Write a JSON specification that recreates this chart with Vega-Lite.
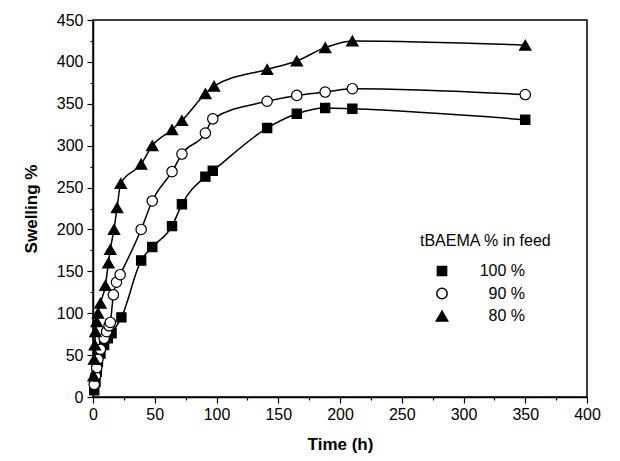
{
  "$schema": "https://vega.github.io/schema/vega-lite/v6.json",
  "width": 494,
  "height": 377,
  "padding": {"left": 93, "top": 20, "right": 33, "bottom": 64},
  "autosize": {"type": "none"},
  "background": "white",
  "config": {
    "view": {"stroke": "black", "strokeWidth": 1.5},
    "font": "Liberation Sans",
    "axis": {"domainColor": "black", "tickColor": "black", "labelColor": "black", "titleColor": "black", "grid": false, "labelFont": "Liberation Sans", "titleFont": "Liberation Sans", "domainWidth": 1.5, "tickWidth": 1.2}
  },
  "data": {"values": [
    {"series": "100 %", "time": 1, "swelling": 8},
    {"series": "100 %", "time": 2, "swelling": 18},
    {"series": "100 %", "time": 3, "swelling": 30},
    {"series": "100 %", "time": 4, "swelling": 42},
    {"series": "100 %", "time": 6, "swelling": 52},
    {"series": "100 %", "time": 9, "swelling": 62},
    {"series": "100 %", "time": 12, "swelling": 70},
    {"series": "100 %", "time": 15, "swelling": 76},
    {"series": "100 %", "time": 23, "swelling": 95},
    {"series": "100 %", "time": 39, "swelling": 163},
    {"series": "100 %", "time": 48, "swelling": 179},
    {"series": "100 %", "time": 64, "swelling": 204},
    {"series": "100 %", "time": 72, "swelling": 230},
    {"series": "100 %", "time": 91, "swelling": 263},
    {"series": "100 %", "time": 97, "swelling": 270},
    {"series": "100 %", "time": 141, "swelling": 321},
    {"series": "100 %", "time": 165, "swelling": 338},
    {"series": "100 %", "time": 188, "swelling": 345},
    {"series": "100 %", "time": 210, "swelling": 344},
    {"series": "100 %", "time": 350, "swelling": 331},
    {"series": "90 %", "time": 1, "swelling": 15},
    {"series": "90 %", "time": 2, "swelling": 25},
    {"series": "90 %", "time": 3, "swelling": 35},
    {"series": "90 %", "time": 4, "swelling": 45},
    {"series": "90 %", "time": 6, "swelling": 57},
    {"series": "90 %", "time": 9, "swelling": 70},
    {"series": "90 %", "time": 11, "swelling": 78},
    {"series": "90 %", "time": 13, "swelling": 85},
    {"series": "90 %", "time": 14, "swelling": 89},
    {"series": "90 %", "time": 16.5, "swelling": 122},
    {"series": "90 %", "time": 19, "swelling": 137},
    {"series": "90 %", "time": 22, "swelling": 146},
    {"series": "90 %", "time": 39, "swelling": 200},
    {"series": "90 %", "time": 48, "swelling": 234},
    {"series": "90 %", "time": 64, "swelling": 269},
    {"series": "90 %", "time": 72, "swelling": 290},
    {"series": "90 %", "time": 91, "swelling": 315},
    {"series": "90 %", "time": 97, "swelling": 332},
    {"series": "90 %", "time": 141, "swelling": 353},
    {"series": "90 %", "time": 165, "swelling": 360},
    {"series": "90 %", "time": 188, "swelling": 364},
    {"series": "90 %", "time": 210, "swelling": 368},
    {"series": "90 %", "time": 350, "swelling": 361},
    {"series": "80 %", "time": 0.5, "swelling": 25},
    {"series": "80 %", "time": 1, "swelling": 45},
    {"series": "80 %", "time": 1.5, "swelling": 62},
    {"series": "80 %", "time": 2, "swelling": 78},
    {"series": "80 %", "time": 3, "swelling": 90},
    {"series": "80 %", "time": 4, "swelling": 100},
    {"series": "80 %", "time": 6, "swelling": 112},
    {"series": "80 %", "time": 10, "swelling": 133},
    {"series": "80 %", "time": 12.5, "swelling": 160},
    {"series": "80 %", "time": 14, "swelling": 176},
    {"series": "80 %", "time": 17, "swelling": 200},
    {"series": "80 %", "time": 19.5, "swelling": 226},
    {"series": "80 %", "time": 22.5, "swelling": 255},
    {"series": "80 %", "time": 39, "swelling": 278},
    {"series": "80 %", "time": 48, "swelling": 300},
    {"series": "80 %", "time": 64, "swelling": 319},
    {"series": "80 %", "time": 72, "swelling": 330},
    {"series": "80 %", "time": 91, "swelling": 362},
    {"series": "80 %", "time": 98, "swelling": 371},
    {"series": "80 %", "time": 141, "swelling": 391},
    {"series": "80 %", "time": 165, "swelling": 401},
    {"series": "80 %", "time": 188, "swelling": 417},
    {"series": "80 %", "time": 210, "swelling": 425},
    {"series": "80 %", "time": 350, "swelling": 420}
  ]},
  "layer": [
    {
      "mark": {"type": "line", "interpolate": "monotone", "color": "black", "strokeWidth": 1.5},
      "encoding": {
        "x": {"field": "time", "type": "quantitative", "scale": {"domain": [0, 400], "nice": false, "zero": false},
          "axis": {"orient": "bottom", "values": [0, 50, 100, 150, 200, 250, 300, 350, 400], "tickSize": 6, "labelFontSize": 16, "labelPadding": 3, "labelFlush": false, "labelOverlap": false, "title": "Time (h)", "titleFontSize": 17, "titleFontWeight": "bold", "titlePadding": 14}},
        "y": {"field": "swelling", "type": "quantitative", "scale": {"domain": [0, 450], "nice": false},
          "axis": {"orient": "left", "values": [0, 50, 100, 150, 200, 250, 300, 350, 400, 450], "tickSize": 6, "labelFontSize": 16, "labelPadding": 4, "labelOverlap": false, "title": "Swelling %", "titleFontSize": 17, "titleFontWeight": "bold", "titlePadding": 16}},
        "detail": {"field": "series", "type": "nominal"}
      }
    },
    {
      "mark": {"type": "point", "filled": true, "stroke": "black", "strokeWidth": 1.2, "opacity": 1},
      "encoding": {
        "x": {"field": "time", "type": "quantitative", "scale": {"domain": [0, 400], "nice": false, "zero": false},
          "axis": {"orient": "bottom", "values": [25, 75, 125, 175, 225, 275, 325, 375], "tickSize": 3, "labels": false, "domain": false, "title": null}},
        "y": {"field": "swelling", "type": "quantitative", "scale": {"domain": [0, 450], "nice": false},
          "axis": {"orient": "left", "values": [25, 75, 125, 175, 225, 275, 325, 375, 425], "tickSize": 3, "labels": false, "domain": false, "title": null}},
        "shape": {"field": "series", "type": "nominal",
          "scale": {"domain": ["100 %", "90 %", "80 %"], "range": ["square", "circle", "triangle-up"]},
          "legend": {
            "orient": "none", "legendX": 327, "legendY": 213,
            "title": "tBAEMA % in feed", "titleFontSize": 16, "titleFontWeight": "normal", "titleFont": "Liberation Sans", "titleColor": "black", "titlePadding": 14,
            "labelFontSize": 16, "labelFont": "Liberation Sans", "labelColor": "black", "labelAlign": "right", "labelOffset": 75,
            "symbolOffset": 14, "rowPadding": 5.5,
            "encode": {"symbols": {
              "stroke": {"value": "black"},
              "strokeWidth": {"value": 1.2},
              "opacity": {"value": 1}
            }}
          }},
        "fill": {"field": "series", "type": "nominal", "scale": {"domain": ["100 %", "90 %", "80 %"], "range": ["black", "white", "black"]}},
        "size": {"field": "series", "type": "nominal", "scale": {"domain": ["100 %", "90 %", "80 %"], "range": [85, 130, 150]}}
      }
    }
  ],
  "resolve": {"axis": {"x": "independent", "y": "independent"}}
}
